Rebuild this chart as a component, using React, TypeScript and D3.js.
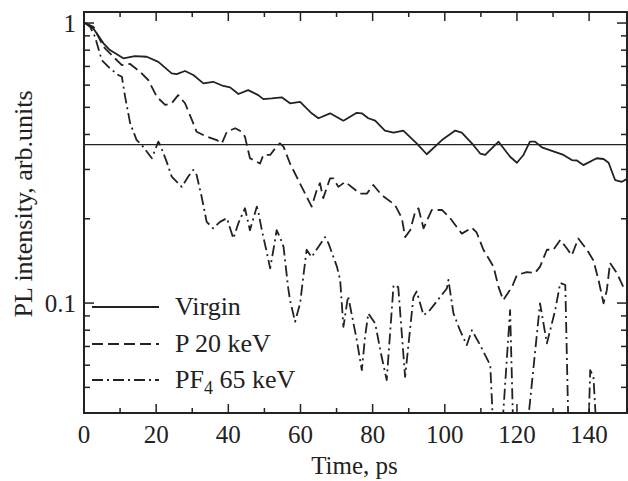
import React from "react";
import * as d3 from "d3";

const virginT = [0.3,2.6,5.4,7.2,10.9,14.1,17.4,20.6,24.3,25.7,28,30.3,33.1,35.8,38.6,40.5,42.8,45.5,48.3,49.7,52,54.8,57.1,59.9,63.1,65,68.2,71.9,75.6,77,78.8,80.7,83.4,85.8,88.5,92.2,95,99.2,102.9,104.7,107.9,109.8,111.2,114.9,118.1,120,121.8,123.6,125,126.9,132.9,135.2,136.6,138.4,142.1,144,145.4,147.2,149.1,150.8];
const virginV = [1.0,0.957,0.846,0.801,0.748,0.762,0.758,0.727,0.661,0.657,0.674,0.652,0.609,0.617,0.596,0.589,0.558,0.576,0.553,0.535,0.538,0.543,0.517,0.523,0.476,0.457,0.476,0.448,0.478,0.476,0.457,0.448,0.413,0.406,0.413,0.372,0.340,0.382,0.413,0.406,0.367,0.342,0.338,0.377,0.333,0.317,0.338,0.377,0.377,0.360,0.338,0.324,0.323,0.311,0.329,0.327,0.317,0.275,0.271,0.279];

const p20T = [0.3,2.6,5.4,8.1,10.5,12.8,15.5,17.8,20.2,22.5,24.3,26.1,28,29.9,31.2,34,36.8,38.2,39.6,41.9,43.7,44.6,46,48.8,49.7,51.6,53,54.3,55.3,57.1,60.8,63.1,64.5,65.4,66.3,68.2,69.1,70.5,72.4,76.5,78.4,80.2,82.5,86.2,88.1,89,90.4,91.8,92.7,94.1,96.4,99.2,101.5,102.9,104.7,107.5,108.8,110.7,113.5,114.9,116.2,118.6,120,122.7,125,126.4,128.3,130.1,132,133.8,135.2,137,139.4,141.2,142.6,144,144.9,145.8,147.7,149.5,150.8];
const p20V = [1.0,0.97,0.823,0.758,0.708,0.714,0.67,0.626,0.545,0.51,0.517,0.553,0.517,0.451,0.409,0.393,0.382,0.372,0.409,0.421,0.409,0.393,0.329,0.315,0.338,0.338,0.357,0.372,0.362,0.315,0.253,0.221,0.253,0.268,0.237,0.279,0.279,0.26,0.271,0.246,0.246,0.264,0.243,0.224,0.201,0.172,0.182,0.212,0.218,0.185,0.215,0.215,0.201,0.19,0.177,0.186,0.179,0.155,0.135,0.114,0.1025,0.114,0.126,0.129,0.128,0.135,0.155,0.155,0.168,0.157,0.148,0.17,0.155,0.142,0.121,0.0998,0.111,0.139,0.128,0.114,0.118];

const pf4T = [0.3,1.7,3.05,4.9,7.2,9.5,10.5,11.4,12.8,14.6,16,18.8,20.6,21.1,22.9,24.3,27.1,28.9,30.3,31.2,32.6,34,35.8,37.7,39.6,41.4,42.8,44.6,46,47.9,48.3,49.3,50.6,51.6,52.5,53.4,54.3,55.3,56.6,57.1,58.5,59.9,61,61.7,63.1,65,66.8,67.8,70.1,71,71.9,73.2,75.6,77,77.9,78.8,80.7,82.5,83.9,85.8,87.1,89,91.3,92.2,94.1,95.5,98.7,100.6,101,102.4,104.2,106.1,107.5,109.8,112.6,113.5,115.8,118.1,119,120.9,122.7,126.4,128.3,130.6,132,133.4,134.3,139.8,140.3,141.2,142.1,150.8];
const pf4V = [1.0,0.97,0.894,0.738,0.689,0.652,0.643,0.545,0.438,0.382,0.367,0.329,0.377,0.367,0.32,0.283,0.26,0.283,0.299,0.287,0.24,0.195,0.185,0.195,0.201,0.17,0.193,0.218,0.182,0.221,0.212,0.182,0.153,0.133,0.155,0.182,0.172,0.159,0.113,0.1025,0.0858,0.0998,0.131,0.155,0.146,0.159,0.172,0.163,0.135,0.121,0.0823,0.106,0.0738,0.0576,0.0758,0.0919,0.0846,0.0643,0.0531,0.116,0.114,0.0545,0.105,0.11,0.0906,0.0931,0.105,0.113,0.121,0.0919,0.08,0.0708,0.08,0.0708,0.06,0.034,0.034,0.0944,0.034,0.034,0.034,0.0998,0.0718,0.0944,0.118,0.116,0.034,0.034,0.0576,0.0545,0.034,0.03];

const xTicks = [0, 20, 40, 60, 80, 100, 120, 140];
const xMinorTicks = [10, 30, 50, 70, 90, 110, 130, 150];
const yTickLabels = [{ v: 1, label: "1" }, { v: 0.1, label: "0.1" }];
const yMinorTicks = [0.05, 0.06, 0.07, 0.08, 0.09, 0.2, 0.3, 0.4, 0.5, 0.6, 0.7, 0.8, 0.9];
const legendItems = ["Virgin", "P 20 keV", "PF4 65 keV"];
const refLevel = 1 / Math.E;

const W = 628, H = 481;
const L = 84, R = 627, T = 12, B = 413;
const FONT = "'Liberation Serif', 'Times New Roman', serif";
const INK = "#222";

export default function App() {
  const x = d3.scaleLinear().domain([0, 150.5]).range([L, R]);
  const y = d3.scaleLog().domain([0.0405, 1.095]).range([B, T]);
  const line = d3.line<[number, number]>().x(d => x(d[0])).y(d => y(d[1]));
  const series = [
    { t: virginT, v: virginV, dash: "none" },
    { t: p20T, v: p20V, dash: "11,5" },
    { t: pf4T, v: pf4V, dash: "11,4,2,4" },
  ];
  const legY = [307, 344, 380];
  return (
    <svg width={W} height={H} style={{ position: "absolute", left: 0, top: 0, background: "#fff" }}>
      <defs>
        <clipPath id="plot">
          <rect x={L} y={T} width={R - L} height={B - T} />
        </clipPath>
      </defs>
      <rect x={0} y={0} width={W} height={H} fill="#fff" />
      <g clipPath="url(#plot)">
        <line x1={L} x2={R} y1={y(refLevel)} y2={y(refLevel)} stroke={INK} strokeWidth={1.2} />
        {series.map((s, i) => (
          <path key={i} d={line(s.t.map((t, j) => [t, s.v[j]] as [number, number])) || ""}
            fill="none" stroke={INK} strokeWidth={1.8} strokeDasharray={s.dash} strokeLinejoin="round" />
        ))}
      </g>
      {/* frame */}
      <rect x={L} y={T} width={R - L} height={B - T} fill="none" stroke={INK} strokeWidth={2} />
      {/* x ticks */}
      {xTicks.map(t => (
        <g key={"xt" + t}>
          <line x1={x(t)} x2={x(t)} y1={B} y2={B - 9} stroke={INK} strokeWidth={1.5} />
          <line x1={x(t)} x2={x(t)} y1={T} y2={T + 9} stroke={INK} strokeWidth={1.5} />
          <text x={x(t)} y={443} textAnchor="middle" fontFamily={FONT} fontSize={25} fill={INK}>{t}</text>
        </g>
      ))}
      {xMinorTicks.filter(t => x(t) < R - 2).map(t => (
        <g key={"xm" + t}>
          <line x1={x(t)} x2={x(t)} y1={B} y2={B - 5} stroke={INK} strokeWidth={1.5} />
          <line x1={x(t)} x2={x(t)} y1={T} y2={T + 5} stroke={INK} strokeWidth={1.5} />
        </g>
      ))}
      {/* y ticks */}
      {yTickLabels.map(d => (
        <g key={"yt" + d.v}>
          <line x1={L} x2={L + 10} y1={y(d.v)} y2={y(d.v)} stroke={INK} strokeWidth={1.5} />
          <line x1={R} x2={R - 10} y1={y(d.v)} y2={y(d.v)} stroke={INK} strokeWidth={1.5} />
          <text x={76} y={y(d.v) + 9} textAnchor="end" fontFamily={FONT} fontSize={25} fill={INK}>{d.label}</text>
        </g>
      ))}
      {yMinorTicks.map(v => (
        <g key={"ym" + v}>
          <line x1={L} x2={L + 6} y1={y(v)} y2={y(v)} stroke={INK} strokeWidth={1.5} />
          <line x1={R} x2={R - 6} y1={y(v)} y2={y(v)} stroke={INK} strokeWidth={1.5} />
        </g>
      ))}
      {/* axis titles */}
      <text x={(L + R) / 2 - 1} y={474} textAnchor="middle" fontFamily={FONT} fontSize={25} fill={INK}>Time, ps</text>
      <text transform={`translate(32,${204}) rotate(-90)`} textAnchor="middle" fontFamily={FONT} fontSize={26} fill={INK}>PL intensity, arb.units</text>
      {/* legend */}
      {legendItems.map((name, i) => (
        <g key={"lg" + i}>
          <line x1={92} x2={159} y1={legY[i]} y2={legY[i]} stroke={INK} strokeWidth={1.8} strokeDasharray={series[i].dash} />
          <text x={175} y={legY[i] + 8} fontFamily={FONT} fontSize={26} fill={INK}>
            {i === 2 ? (<><tspan>PF</tspan><tspan fontSize={18} dy={6}>4</tspan><tspan dy={-6}> 65 keV</tspan></>) : name}
          </text>
        </g>
      ))}
    </svg>
  );
}
